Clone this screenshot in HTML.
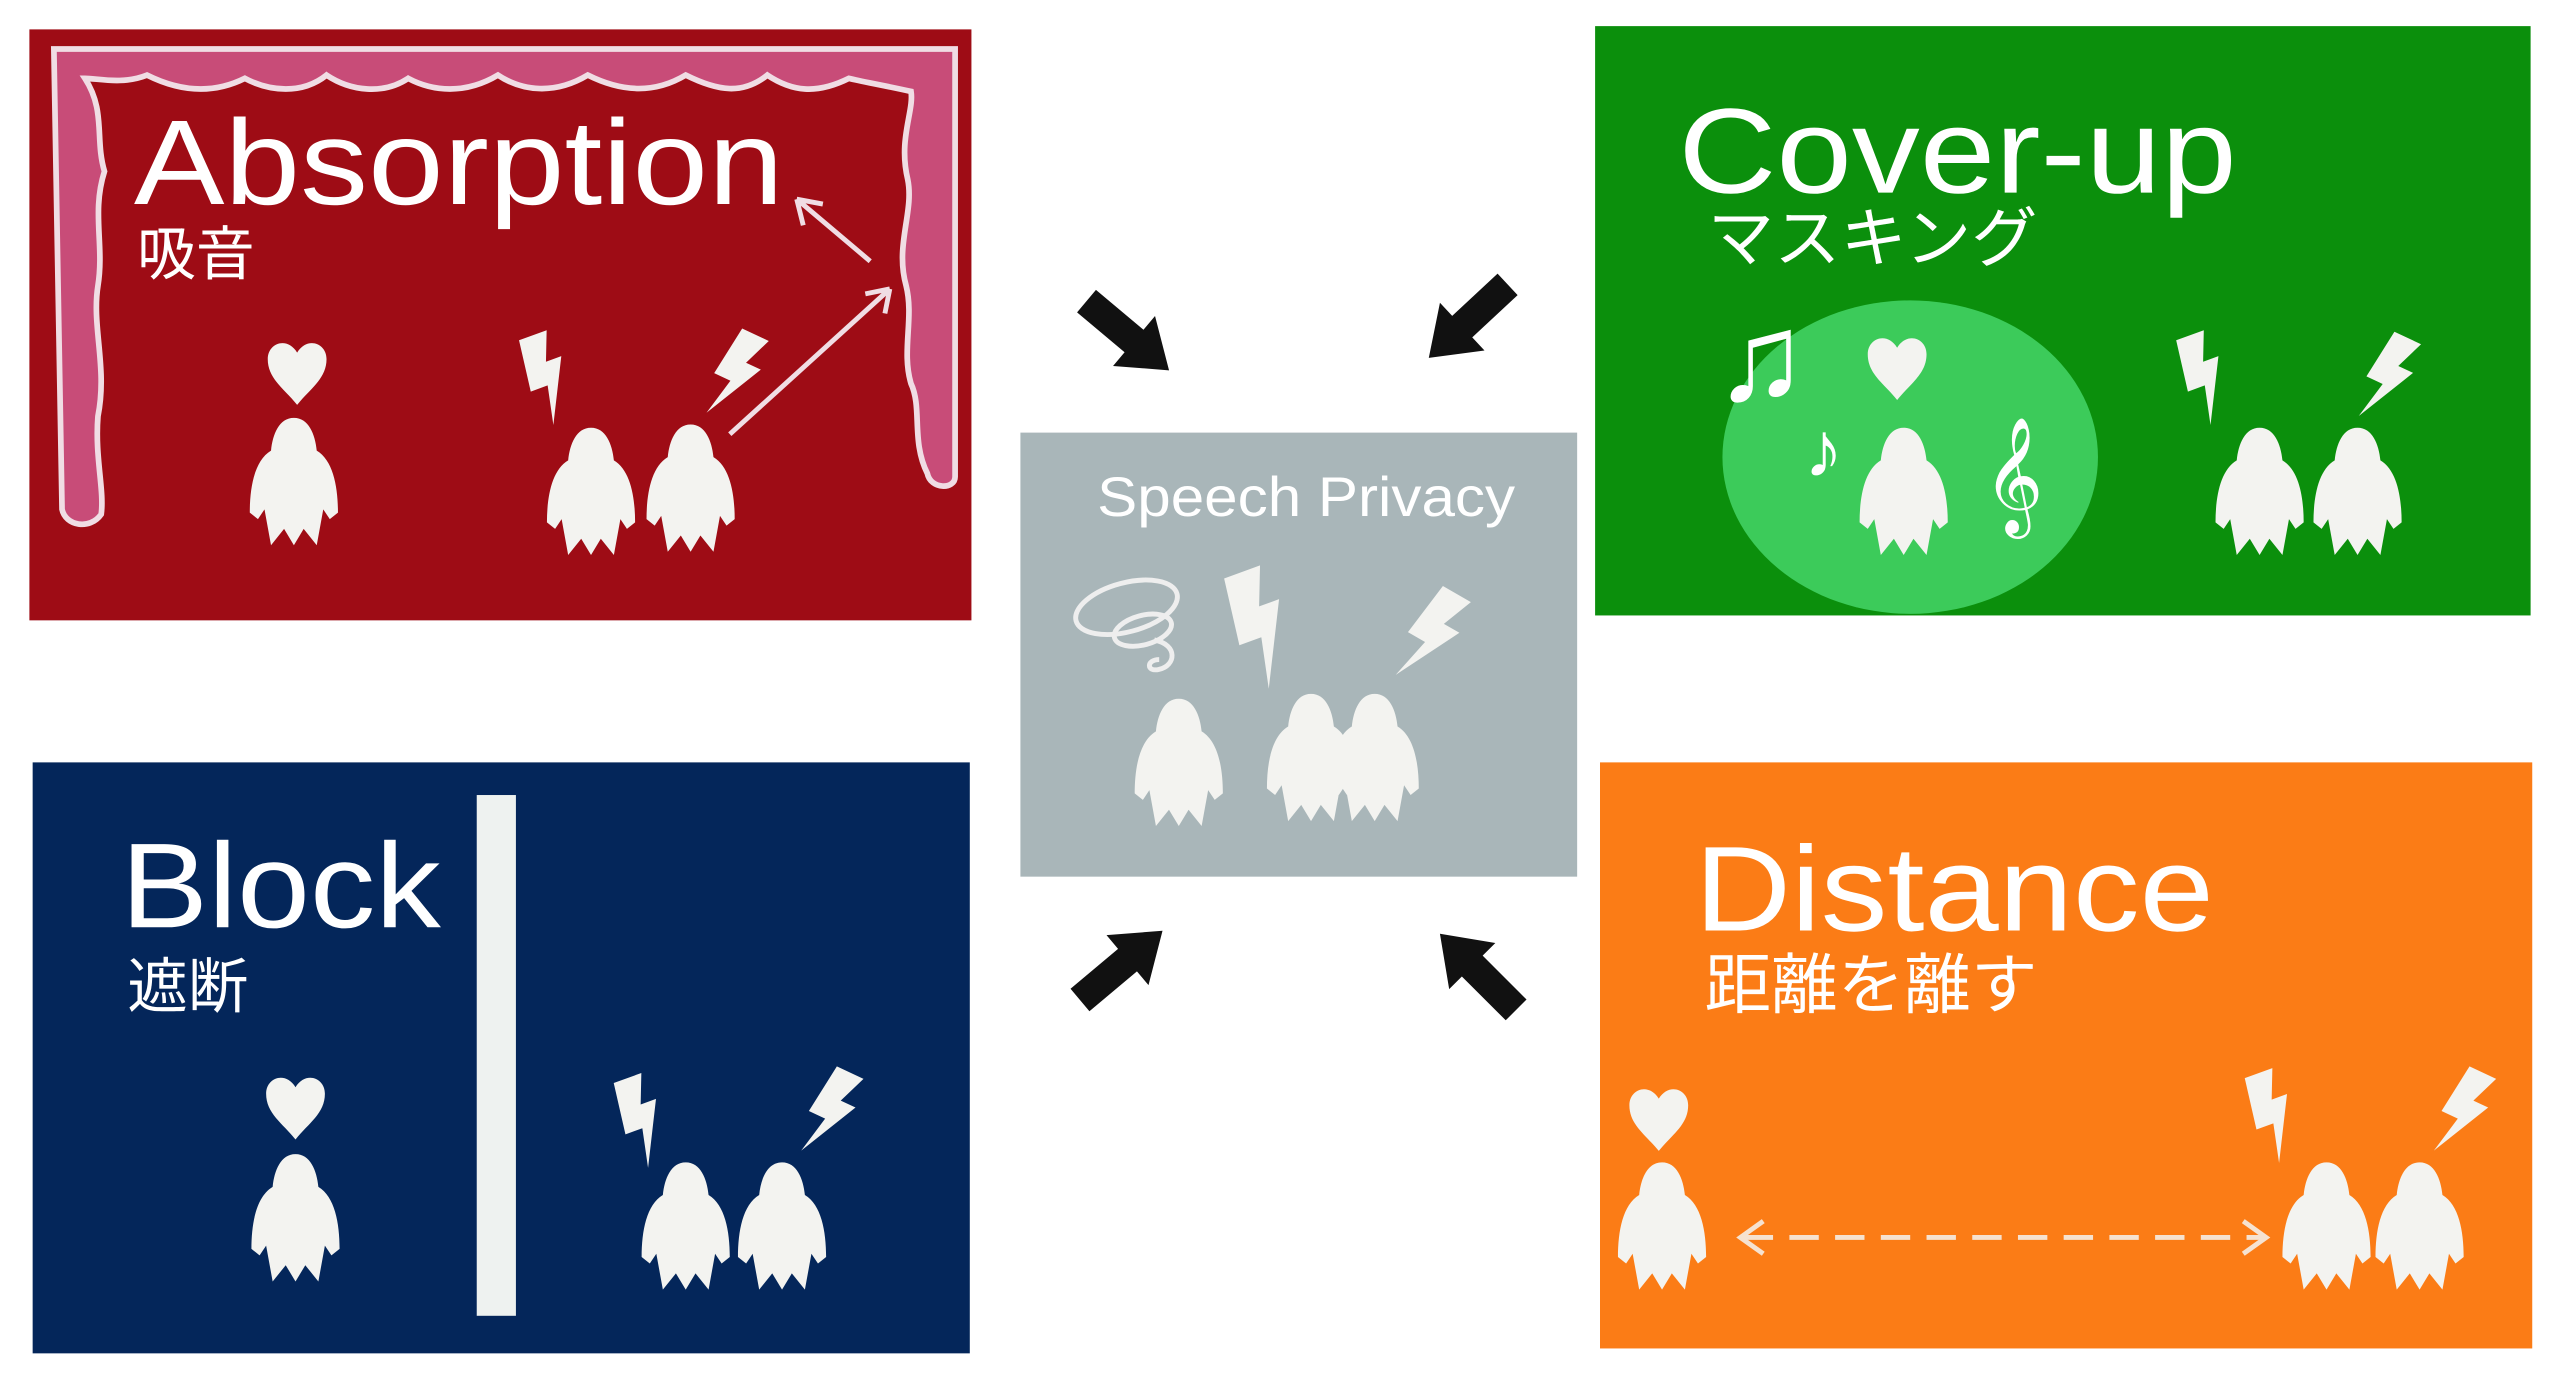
<!DOCTYPE html>
<html><head><meta charset="utf-8">
<style>
html,body{margin:0;padding:0;background:#fff;}
svg{display:block;}
text{font-family:"Liberation Sans","Noto Sans CJK JP",sans-serif;fill:#fff;}
</style></head>
<body>
<svg width="2560" height="1386" viewBox="0 0 1568 849" preserveAspectRatio="none" xmlns="http://www.w3.org/2000/svg">
<defs>
<path id="g" d="M0,0 C-9,0 -13,10 -14,20 C-24,26 -27,42 -27,58 L-22,62 L-18,56 L-14,78 L-6,68 L0,78 L6,68 L14,78 L18,56 L22,62 L27,58 C27,42 24,26 14,20 C13,10 9,0 0,0Z" fill="#f3f3f0"/>
<path id="h" d="M0,20 C-8,10 -18,4 -18,-8 C-18,-18 -6,-22 0,-12 C6,-22 18,-18 18,-8 C18,4 8,10 0,20Z" fill="#f3f3f0"/>
<path id="b" d="M-8,-28 L10,-28 L3,-10 L13,-10 L-6,28 L-1,4 L-12,4Z" fill="#f3f3f0"/>
<path id="ar" d="M-32,-9 L6,-9 L6,-20 L34,0 L6,20 L6,9 L-32,9Z" fill="#111"/>
</defs>

<!-- Red Absorption -->
<rect x="18" y="18" width="577" height="362" fill="#9e0c15"/>
<path d="M33,30 L585,30 L585,292 C585,300 570,300 568,290 C558,270 565,250 558,235 C552,215 560,195 555,175 C548,150 560,130 556,110 C550,85 560,68 558,56 C540,52 528,50 520,48 C500,58 485,56 470,46 C455,58 440,56 420,46 C400,58 380,56 360,46 C340,58 320,56 305,46 C285,58 265,56 250,48 C235,58 215,56 200,46 C185,58 165,56 150,48 C130,58 110,56 90,46 C75,52 60,48 52,48 C65,68 58,85 64,105 C56,130 64,150 60,175 C56,200 66,225 60,255 C58,280 64,300 62,315 C55,325 40,322 38,312Z" fill="#c84c78" stroke="#f0dde4" stroke-width="3.5"/>
<text x="82" y="125" font-size="74" textLength="398" lengthAdjust="spacingAndGlyphs">Absorption</text>
<text x="84" y="168" font-size="36">吸音</text>
<g stroke="#f0dde4" stroke-width="3" fill="none">
<path d="M533,160 L488,122 M488,122 L492,138 M488,122 L504,125"/>
<path d="M447,266 L545,177 M545,177 L530,180 M545,177 L542,192"/>
</g>
<use href="#h" x="182" y="228"/>
<use href="#g" x="180" y="256"/>
<use href="#b" transform="translate(335,232) rotate(-20)"/>
<use href="#b" transform="translate(450,230) rotate(25)"/>
<use href="#g" x="362" y="262"/>
<use href="#g" x="423" y="260"/>

<!-- Green Cover-up -->
<rect x="977" y="16" width="573" height="361" fill="#0b8f0c"/>
<ellipse cx="1170" cy="280" rx="115" ry="96" fill="#3ccb5a"/>
<text x="1028" y="118" font-size="74" textLength="342" lengthAdjust="spacingAndGlyphs">Cover-up</text>
<text x="1046" y="160" font-size="40" textLength="202" lengthAdjust="spacingAndGlyphs">マスキング</text>
<text x="1050" y="245" font-size="76" font-family="DejaVu Sans">♫</text>
<text x="1105" y="292" font-size="48" font-family="DejaVu Sans">♪</text>
<text x="1215" y="312" font-size="62" font-family="DejaVu Sans" fill="#eee">𝄞</text>
<use href="#h" x="1162" y="225"/>
<use href="#g" x="1166" y="262"/>
<use href="#b" transform="translate(1350,232) rotate(-20)"/>
<use href="#b" transform="translate(1462,232) rotate(25)"/>
<use href="#g" x="1384" y="262"/>
<use href="#g" x="1444" y="262"/>

<!-- Navy Block -->
<rect x="20" y="467" width="574" height="362" fill="#04265a"/>
<rect x="292" y="487" width="24" height="319" fill="#eef2f0"/>
<text x="74" y="568" font-size="74" textLength="196" lengthAdjust="spacingAndGlyphs">Block</text>
<text x="78" y="617" font-size="37">遮断</text>
<use href="#h" x="181" y="678"/>
<use href="#g" x="181" y="707"/>
<use href="#b" transform="translate(393,687) rotate(-20)"/>
<use href="#b" transform="translate(508,682) rotate(25)"/>
<use href="#g" x="420" y="712"/>
<use href="#g" x="479" y="712"/>

<!-- Orange Distance -->
<rect x="980" y="467" width="571" height="359" fill="#fb7c16"/>
<text x="1038" y="570" font-size="74" textLength="318" lengthAdjust="spacingAndGlyphs">Distance</text>
<text x="1044" y="617" font-size="40" textLength="204" lengthAdjust="spacingAndGlyphs">距離を離す</text>
<use href="#h" x="1016" y="685"/>
<use href="#g" x="1018" y="712"/>
<use href="#b" transform="translate(1392,684) rotate(-20)"/>
<use href="#b" transform="translate(1508,682) rotate(25)"/>
<use href="#g" x="1425" y="712"/>
<use href="#g" x="1482" y="712"/>
<g stroke="#f6e2d0" stroke-width="3" fill="none">
<path d="M1068,758 L1386,758" stroke-dasharray="18,10"/>
<path d="M1080,748 L1066,758 L1080,768 M1374,748 L1388,758 L1374,768"/>
</g>

<!-- Gray center -->
<rect x="625" y="265" width="341" height="272" fill="#a9b6b9"/>
<text x="672" y="316" font-size="34" textLength="256" lengthAdjust="spacingAndGlyphs">Speech Privacy</text>
<g stroke="#eee" stroke-width="3" fill="none">
<ellipse cx="690" cy="372" rx="32" ry="15" transform="rotate(-15 690 372)"/>
<ellipse cx="700" cy="386" rx="18" ry="9" transform="rotate(-15 700 386)"/>
<path d="M707,392 C722,395 720,408 710,410 C702,412 702,404 710,404"/>
</g>
<use href="#b" transform="translate(772,385) rotate(-20) scale(1.3)"/>
<use href="#b" transform="translate(876,390) rotate(30) scale(1.1)"/>
<use href="#g" x="722" y="428"/>
<use href="#g" x="803" y="425"/>
<use href="#g" x="842" y="425"/>

<!-- Black arrows -->
<use href="#ar" transform="translate(690,205) rotate(40)"/>
<use href="#ar" transform="translate(900,196) rotate(137)"/>
<use href="#ar" transform="translate(686,592) rotate(-40)"/>
<use href="#ar" transform="translate(906,596) rotate(-135)"/>
</svg>
</body></html>
